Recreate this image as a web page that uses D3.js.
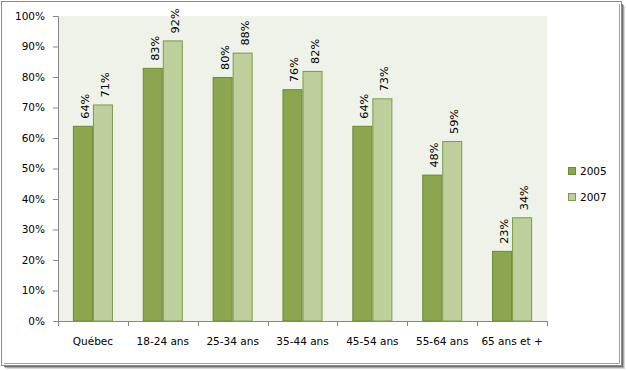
<!DOCTYPE html>
<html><head><meta charset="utf-8">
<script src="https://cdn.jsdelivr.net/npm/d3@7"></script>
<style>body{margin:0;background:#fff}svg{display:block}text{font-family:"DejaVu Sans",Verdana,sans-serif}</style>
</head><body><svg id="c" width="626" height="370"></svg>
<script>
const categories = ["Québec","18-24 ans","25-34 ans","35-44 ans","45-54 ans","55-64 ans","65 ans et +"];
const seriesNames = ["2005","2007"];
const values2005 = [64,83,80,76,64,48,23];
const values2007 = [71,92,88,82,73,59,34];
const yTicks = [0,10,20,30,40,50,60,70,80,90,100];
const colors = ["#8BA64F","#BDD09B"];
const strokes = ["#6C8A36","#7D9A48"];

const svg = d3.select("#c");
// frame with shadow
svg.append("rect").attr("x",6).attr("y",6).attr("width",619).attr("height",363).attr("fill","#d6d6d6");
svg.append("rect").attr("x",5).attr("y",5).attr("width",619).attr("height",363).attr("fill","#a8a8a8");
svg.append("rect").attr("x",4).attr("y",4).attr("width",619).attr("height",363).attr("fill","#707070");
svg.append("rect").attr("x",1.5).attr("y",1.5).attr("width",620).attr("height",364).attr("fill","#fff").attr("stroke","#8c8c8c");
svg.append("path").attr("d","M619.5,4V363.5H4").attr("fill","none").attr("stroke","#a0a0a0");

const m = {l:58,r:547,t:16,b:321};
const x = d3.scaleBand().domain(categories).range([m.l,m.r]).paddingInner(0).paddingOuter(0);
const y = d3.scaleLinear().domain([0,100]).range([m.b,m.t]);
const inner = d3.scaleBand().domain(seriesNames).range([14.9, x.bandwidth()-14.9]);

svg.append("rect").attr("x",m.l).attr("y",m.t).attr("width",m.r-m.l).attr("height",m.b-m.t).attr("fill","#EFF2E9");

const data = [values2005, values2007];
data.forEach((vals,si)=>{
  const g = svg.append("g");
  g.selectAll("rect").data(vals).join("rect")
    .attr("x",(d,i)=>x(categories[i])+inner(seriesNames[si])+0.5)
    .attr("y",d=>y(d)+0.5)
    .attr("width",inner.bandwidth()-1)
    .attr("height",d=>m.b-y(d)-0.5)
    .attr("fill",colors[si]).attr("stroke",strokes[si]).attr("stroke-width",1);
  g.selectAll("text").data(vals).join("text")
    .attr("transform",(d,i)=>`translate(${x(categories[i])+inner(seriesNames[si])+inner.bandwidth()/2+6},${y(d)-7}) rotate(-90)`)
    .attr("font-size",11.3).attr("fill","#000")
    .text(d=>d+"%");
});

const yAxis = svg.append("g").attr("transform",`translate(${m.l},0)`)
  .call(d3.axisLeft(y).tickValues(yTicks).tickSize(5).tickFormat(d=>d+"%"));
yAxis.selectAll("text").attr("font-size",10.5).attr("fill","#000").attr("x",-13).attr("font-family","DejaVu Sans");
yAxis.selectAll("line,path").attr("stroke","#868686");

const xAxis = svg.append("g").attr("transform",`translate(0,${m.b})`)
  .call(d3.axisBottom(x).tickSize(0).tickPadding(17));
xAxis.selectAll("text").attr("font-size",10.5).attr("fill","#000").attr("font-family","DejaVu Sans");
xAxis.select("path").attr("d",`M${m.l},0.5H${m.r}`).attr("stroke","#868686");
const bounds = [...categories.map(c=>x(c)), m.r];
xAxis.selectAll(".tk").data(bounds).join("line").attr("class","tk")
  .attr("x1",d=>Math.round(d)+0.5).attr("x2",d=>Math.round(d)+0.5).attr("y1",0).attr("y2",5).attr("stroke","#868686");

const leg = svg.append("g");
seriesNames.forEach((s,i)=>{
  const ly = 171 + i*26;
  leg.append("rect").attr("x",568.5).attr("y",ly-3.5).attr("width",7).attr("height",7).attr("fill",colors[i]).attr("stroke",strokes[i]);
  leg.append("text").attr("x",580).attr("y",ly+4).attr("font-size",10.5).attr("fill","#000").text(s);
});
</script></body></html>
